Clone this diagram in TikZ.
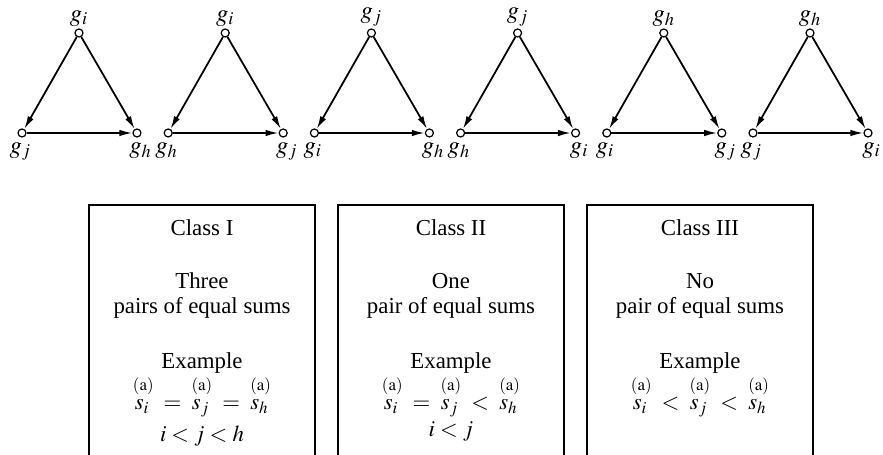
\documentclass[tikz,border=0pt]{standalone}
\usepackage{amsmath}
\usepackage{mathptmx}
\usepackage{fontspec}
\setmainfont{Liberation Serif}
\usetikzlibrary{positioning, arrows.meta}
\newcommand{\sa}[1]{\overset{\raisebox{2.5pt}{$\scriptstyle\mathrm{(a)}$}}{s_{#1}\,}}
\tikzset{
  vertex/.style={circle, draw, fill=white, line width=0.7pt, inner sep=0pt, minimum size=0.16cm},
  edge/.style={-{Latex[length=2.6mm, width=1.3mm]}, line width=1pt},
  glabel/.style={font=\fontsize{14}{16}\selectfont, inner sep=1pt},
  boxtext/.style={font=\fontsize{13}{16}\selectfont, anchor=base}
}

\begin{document}
\begin{tikzpicture}[x=0.02cm, y=-0.02cm]
  \useasboundingbox (0,0) rectangle (883,455);

  % Six orderings of the triangle
  \foreach[count=\k from 0] \vt/\vl/\vr in {i/j/h, i/h/j, j/i/h, j/h/i, h/i/j, h/j/i} {
    \node[vertex] (top\k) at (79+146.2*\k, 33) {};
    \node[vertex] (left\k) at (22+146.2*\k, 133) {};
    \node[vertex] (right\k) at (137+146.2*\k, 133) {};
    \draw[edge] (top\k) -- (left\k);
    \draw[edge] (top\k) -- (right\k);
    \draw[edge] (left\k) -- (right\k);
    \node[glabel, above=0pt of top\k] (ltop\k) {$g_{\vt}$};
    \node[glabel, below=1.5pt of left\k, xshift=-1pt] (lleft\k) {$g_{\vl}$};
    \node[glabel, below=1.5pt of right\k, xshift=2pt] (lright\k) {$g_{\vr}$};
  }

  % Class boxes (open at the bottom)
  \foreach[count=\k from 0] \cls/\num/\prs in {I/Three/pairs, II/One/pair, III/No/pair} {
    \draw[line width=0.8pt] (89+249*\k, 455) |- (315+249*\k, 205) -- (315+249*\k, 455);
    \node[boxtext] (cls\k) at (202+249*\k, 236) {Class \cls};
    \node[boxtext] (num\k) at (202+249*\k, 289) {\num};
    \node[boxtext] (prs\k) at (202+249*\k, 314) {\prs\ of equal sums};
    \node[boxtext] (ex\k) at (202+249*\k, 369) {Example};
  }

  % Example relations
  \node[boxtext] (rel0) at (202, 410) {$\sa{i} \;=\; \sa{j} \;=\; \sa{h}$};
  \node[boxtext] (idx0) at (202, 442) {$i<j<h$};
  \node[boxtext] (rel1) at (451, 410) {$\sa{i} \;=\; \sa{j} \;<\; \sa{h}$};
  \node[boxtext] (idx1) at (451, 437) {$i<j$};
  \node[boxtext] (rel2) at (700, 410) {$\sa{i} \;<\; \sa{j} \;<\; \sa{h}$};
\end{tikzpicture}
\end{document}
